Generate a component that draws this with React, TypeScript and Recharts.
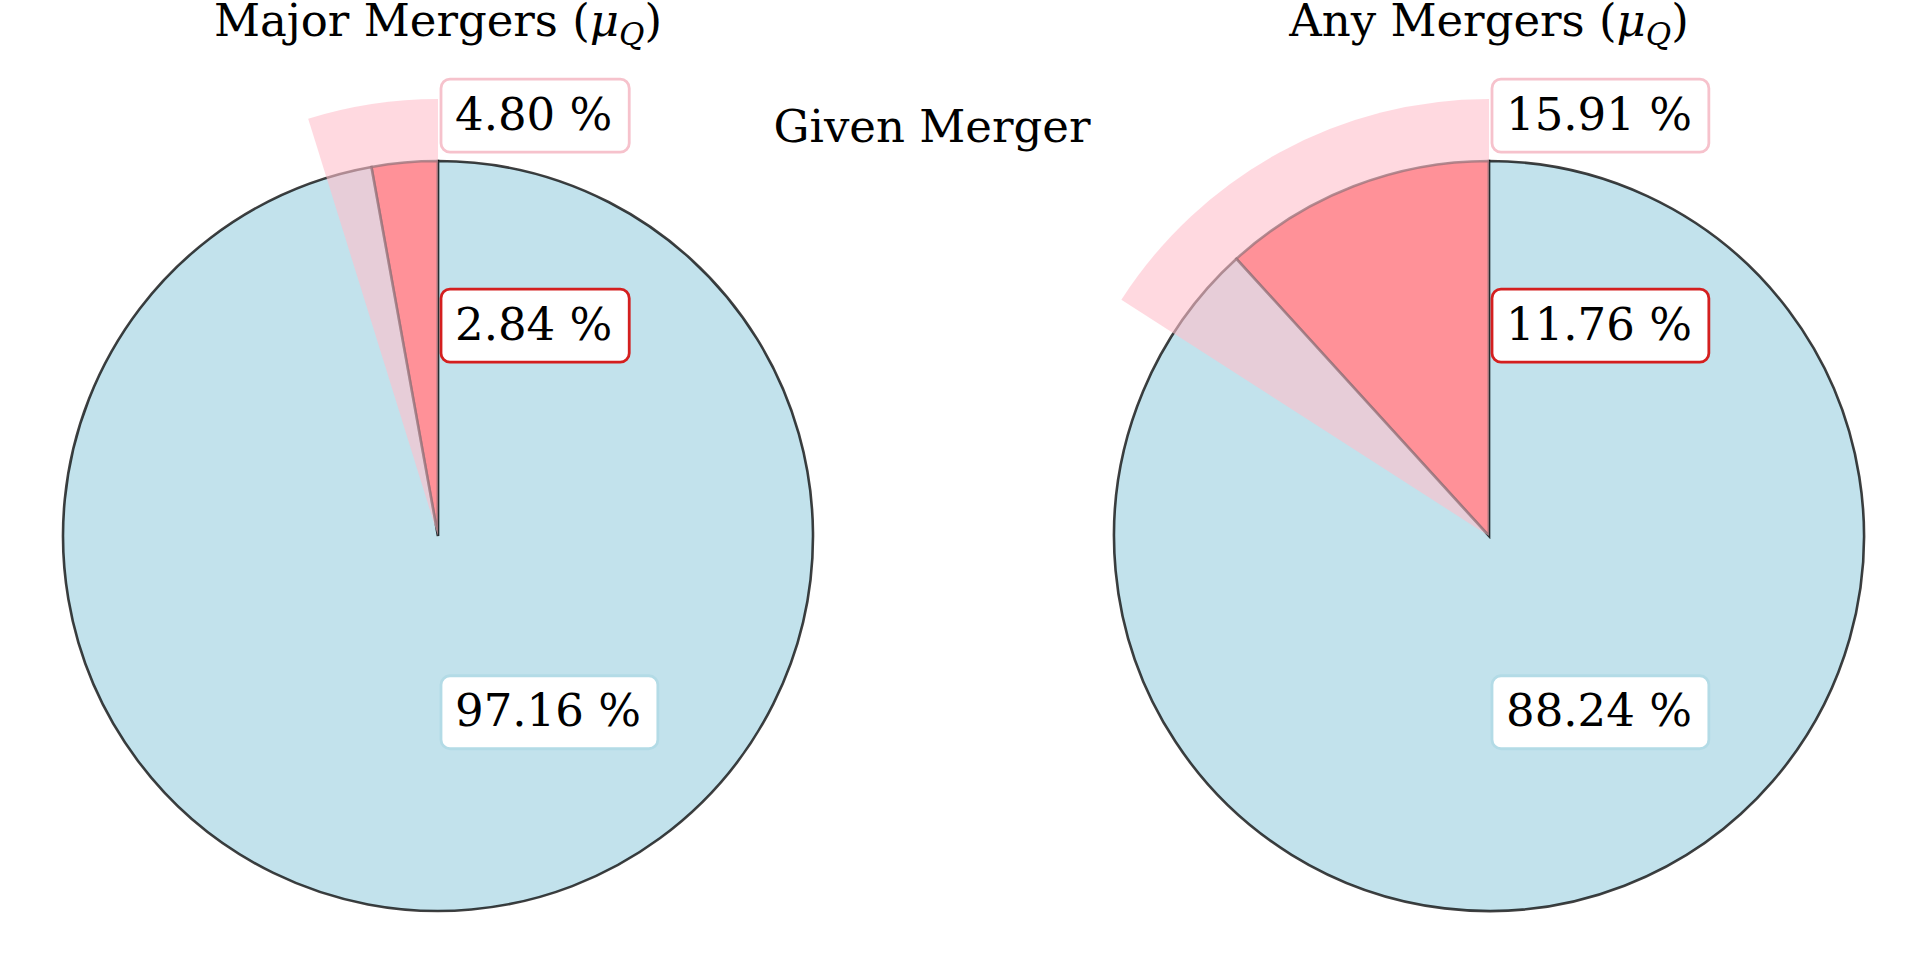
import { PieChart, Pie, Cell } from 'recharts';

// shares (%)
const panelTitles = ['Major Mergers', 'Any Mergers'];
const mergerShare = [2.84, 11.76];
const noMergerShare = [97.16, 88.24];
const givenMergerShare = [4.8, 15.91];

const BLUE = '#add8e6';
const RED = '#ff0000';
const PINK = '#ffc0cb';
const FONT = '"DejaVu Serif", serif';

const W = 1927;
const H = 974;
const CY = 536;
const R = 375;
const R_OUTER = 437;
const CX = [438, 1489];

// label y offsets as fraction of the inner radius (positive = above centre)
const labelLift: Record<string, number> = { merger: 0.561, none: -0.47, given: 1.121 };
const labelBorder: Record<string, string> = { merger: '#d41f1f', none: '#b3dbe6', given: '#f6c2cc' };

const fmt = (v: number) => `${v.toFixed(2)} %`;

// rough DejaVu Serif advance widths (em)
const textWidth = (s: string, size: number) =>
  s.split('').reduce((w, ch) => {
    if (ch >= '0' && ch <= '9') return w + 0.636 * size;
    if (ch === '%') return w + 0.95 * size;
    return w + 0.318 * size;
  }, 0);

const renderLabel = (props: any) => {
  const { cx, cy, payload } = props;
  if (!payload || !payload.kind || payload.kind === 'rest') return null;
  const text = fmt(payload.value);
  const size = 45;
  const boxW = textWidth(text, size) + 31;
  const boxH = 73;
  const yc = cy - labelLift[payload.kind] * R;
  return (
    <g>
      <rect
        x={cx + 3}
        y={yc - boxH / 2}
        width={boxW}
        height={boxH}
        rx={9}
        ry={9}
        fill="#ffffff"
        stroke={labelBorder[payload.kind]}
        strokeWidth={2.8}
      />
      <text x={cx + 17} y={yc + 14} fontFamily={FONT} fontSize={size} fill="#000">
        {text}
      </text>
    </g>
  );
};

export default function App() {
  return (
    <div style={{ position: 'absolute', left: 0, top: 0, width: W, height: H, background: '#fff' }}>
      <PieChart width={W} height={H} margin={{ top: 0, right: 0, bottom: 0, left: 0 }}>
        {panelTitles.map((title, i) => {
          const base = [
            { kind: 'merger', value: mergerShare[i] },
            { kind: 'none', value: noMergerShare[i] },
          ];
          const overlay = [
            { kind: 'given', value: givenMergerShare[i] },
            { kind: 'rest', value: 100 - givenMergerShare[i] },
          ];
          return [
            <Pie
              key={`base-${i}`}
              data={base}
              dataKey="value"
              cx={CX[i]}
              cy={CY}
              innerRadius={0}
              outerRadius={R}
              startAngle={90}
              endAngle={450}
              stroke="#000"
              strokeOpacity={0.75}
              strokeWidth={2.6}
              label={renderLabel}
              labelLine={false}
              isAnimationActive={false}
            >
              <Cell fill={RED} fillOpacity={0.7} />
              <Cell fill={BLUE} fillOpacity={0.75} />
            </Pie>,
            <Pie
              key={`over-${i}`}
              data={overlay}
              dataKey="value"
              cx={CX[i]}
              cy={CY}
              innerRadius={0}
              outerRadius={R_OUTER}
              startAngle={90}
              endAngle={450}
              stroke="none"
              label={renderLabel}
              labelLine={false}
              isAnimationActive={false}
            >
              <Cell fill={PINK} fillOpacity={0.6} />
              <Cell fill="none" fillOpacity={0} />
            </Pie>,
          ];
        })}
        {panelTitles.map((title, i) => (
          <text
            key={`t-${i}`}
            x={CX[i]}
            y={36}
            textAnchor="middle"
            fontFamily={FONT}
            fontSize={45}
            fill="#000"
          >
            {title} (
            <tspan fontStyle="italic">μ</tspan>
            <tspan fontStyle="italic" fontSize={31} dy={9}>Q</tspan>
            <tspan dy={-9}>)</tspan>
          </text>
        ))}
        <text x={932} y={142} textAnchor="middle" fontFamily={FONT} fontSize={45} fill="#000">
          Given Merger
        </text>
      </PieChart>
    </div>
  );
}
